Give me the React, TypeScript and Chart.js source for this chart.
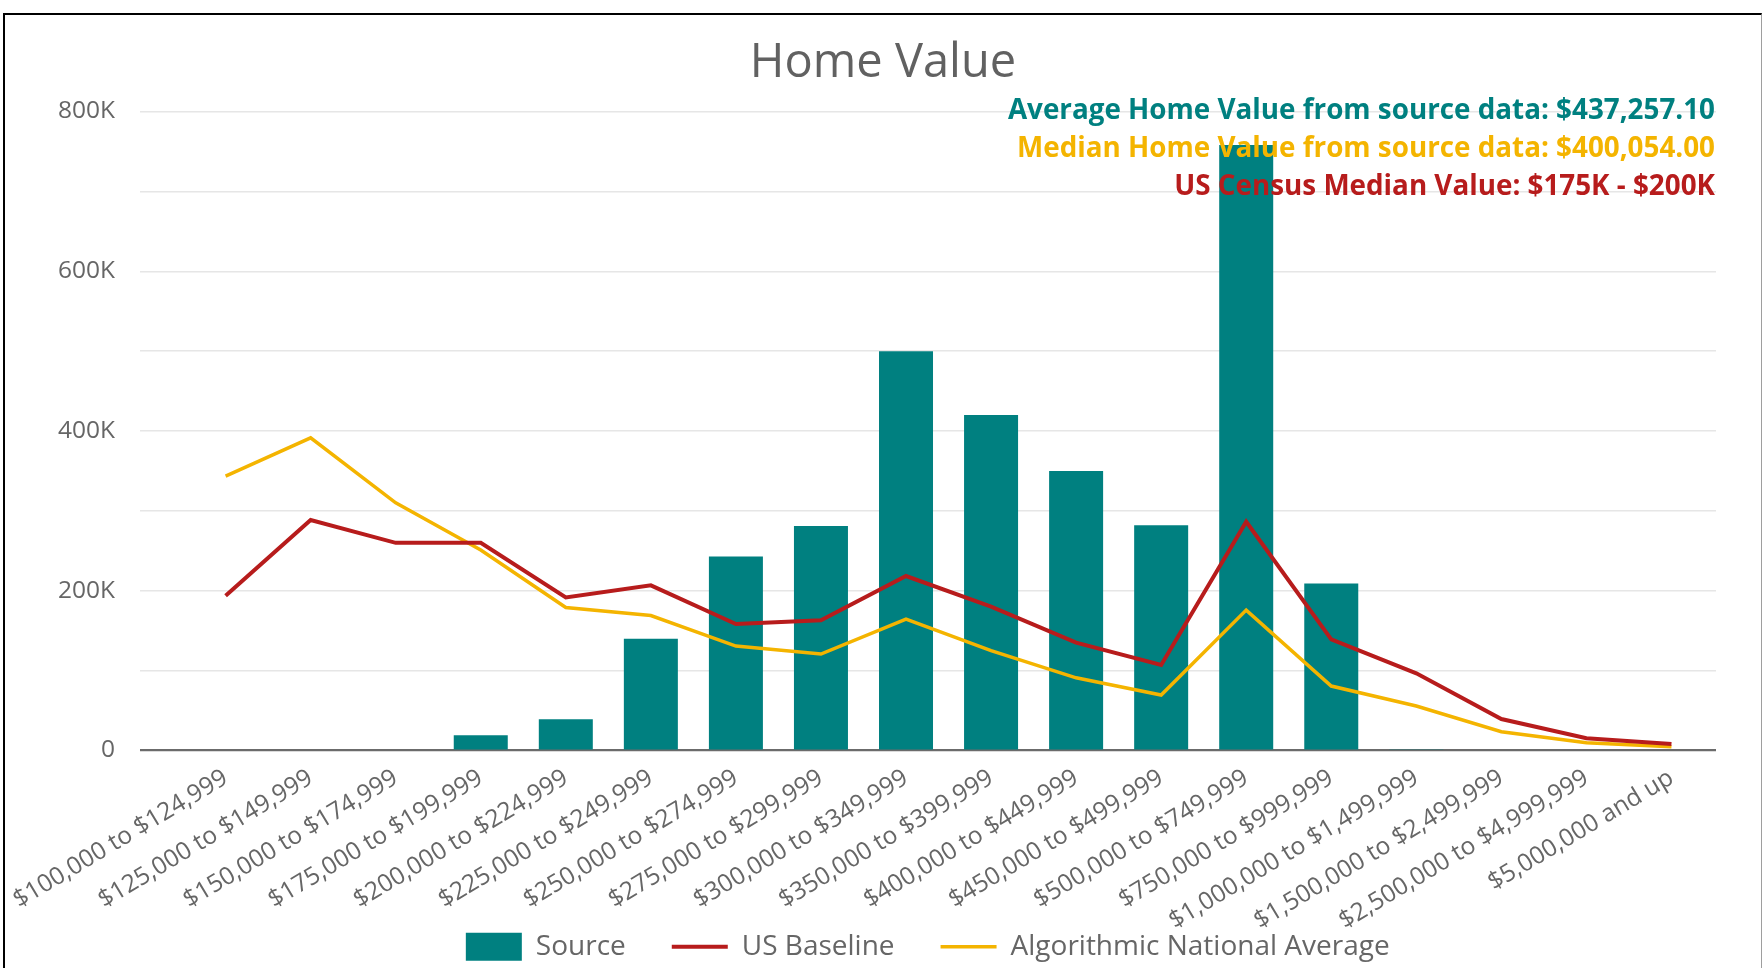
import React, { useEffect, useRef } from 'react';
import { Chart, registerables } from 'chart.js';

Chart.register(...registerables);

const categories = [
  '$100,000 to $124,999',
  '$125,000 to $149,999',
  '$150,000 to $174,999',
  '$175,000 to $199,999',
  '$200,000 to $224,999',
  '$225,000 to $249,999',
  '$250,000 to $274,999',
  '$275,000 to $299,999',
  '$300,000 to $349,999',
  '$350,000 to $399,999',
  '$400,000 to $449,999',
  '$450,000 to $499,999',
  '$500,000 to $749,999',
  '$750,000 to $999,999',
  '$1,000,000 to $1,499,999',
  '$1,500,000 to $2,499,999',
  '$2,500,000 to $4,999,999',
  '$5,000,000 and up',
];

const sourceValues = [0, 0, 0, 19000, 39000, 140000, 243000, 281000, 500000, 420000, 350000, 282000, 758000, 209000, 1500, 0, 0, 0];
const usBaseline = [193700, 288500, 260000, 260000, 191700, 206800, 158300, 163000, 218400, 180000, 135000, 107000, 286400, 139000, 96600, 39400, 15300, 8100];
const algorithmicAvg = [343600, 391500, 310000, 251000, 179000, 169000, 130800, 120800, 164600, 125000, 91000, 69500, 175800, 80700, 55700, 23500, 9800, 4800];

const seriesNames = ['Source', 'US Baseline', 'Algorithmic National Average'];
const seriesColors = ['#008080', '#B71C1C', '#F4B400'];

const yMin = 0;
const yMax = 800000;
const yStep = 100000;
const yLabelStep = 200000;

const titleText = 'Home Value';
const annotationTexts = [
  'Average Home Value from source data: $437,257.10',
  'Median Home Value from source data: $400,054.00',
  'US Census Median Value: $175K - $200K',
];
const annotationColors = ['#008080', '#F4B400', '#B71C1C'];

const FONT = '"Open Sans", "Noto Sans", sans-serif';

const annotationPlugin = {
  id: 'annotationTexts',
  afterDraw(chart: any) {
    const { ctx, chartArea } = chart;
    ctx.save();
    ctx.font = `bold 27.8px ${FONT}`;
    ctx.textAlign = 'right';
    ctx.textBaseline = 'alphabetic';
    annotationTexts.forEach((t, i) => {
      ctx.fillStyle = annotationColors[i];
      ctx.fillText(t, chartArea.right - 1, chartArea.top + 7.5 + i * 38);
    });
    ctx.restore();
  },
};

// let the rotated category labels use the space below their (shortened) axis box
const labelAreaPlugin = {
  id: 'xLabelArea',
  afterLayout(chart: any) {
    const s = chart.scales.x;
    if (s) s.bottom = chart.height;
  },
};

export default function App() {
  const canvasRef = useRef<HTMLCanvasElement | null>(null);

  useEffect(() => {
    if (!canvasRef.current) return;
    const toXY = (arr: number[]) => arr.map((v, i) => ({ x: i, y: v }));
    const xMin = -1.0124;
    const xMax = xMin + 18.536;

    const chart = new Chart(canvasRef.current, {
      type: 'bar',
      data: {
        datasets: [
          {
            type: 'bar',
            label: seriesNames[0],
            data: toXY(sourceValues),
            backgroundColor: seriesColors[0],
            borderWidth: 0,
            barPercentage: 0.635,
            categoryPercentage: 1,
            pointStyle: 'rect',
            order: 2,
          } as any,
          {
            type: 'line',
            label: seriesNames[1],
            data: toXY(usBaseline),
            borderColor: seriesColors[1],
            backgroundColor: seriesColors[1],
            borderWidth: 4,
            pointRadius: 0,
            pointHoverRadius: 0,
            tension: 0,
            fill: false,
            pointStyle: 'line',
            order: 0,
          } as any,
          {
            type: 'line',
            label: seriesNames[2],
            data: toXY(algorithmicAvg),
            borderColor: seriesColors[2],
            backgroundColor: seriesColors[2],
            borderWidth: 3.5,
            pointRadius: 0,
            pointHoverRadius: 0,
            tension: 0,
            fill: false,
            pointStyle: 'line',
            order: 1,
          } as any,
        ],
      },
      options: {
        responsive: false,
        animation: false,
        events: [],
        layout: { padding: { left: 4, right: 0, top: 0, bottom: 9.3 } },
        plugins: {
          title: {
            display: true,
            text: titleText,
            color: '#616161',
            font: { family: FONT, size: 47, weight: 'normal' },
            padding: { top: 35.8, bottom: 19.3 },
          },
          legend: {
            display: true,
            position: 'bottom',
            fullSize: false,
            labels: {
              usePointStyle: true,
              pointStyleWidth: 56,
              boxHeight: 28,
              padding: 46,
              color: '#666666',
              font: { family: FONT, size: 28 },
              sort: (a: any, b: any) => a.datasetIndex - b.datasetIndex,
            },
          },
          tooltip: { enabled: false },
        },
        scales: {
          x: {
            type: 'linear',
            min: xMin,
            max: xMax,
            offset: false,
            grid: { display: false, drawTicks: false },
            border: { display: false },
            ticks: {
              stepSize: 1,
              includeBounds: false,
              autoSkip: false,
              maxRotation: 31,
              minRotation: 31,
              padding: 13,
              color: '#666666',
              font: { family: FONT, size: 24.5 },
              callback: (value: any) => {
                const v = Number(value);
                return Number.isInteger(v) && v >= 0 && v < categories.length ? categories[v] : '';
              },
            },
            afterFit: (scale: any) => {
              scale.height = 136.2;
            },
          } as any,
          y: {
            type: 'linear',
            min: yMin,
            max: yMax,
            grid: {
              drawTicks: false,
              color: (ctx: any) => (ctx.tick && ctx.tick.value === 0 ? '#6b6b6b' : '#e6e6e6'),
              lineWidth: (ctx: any) => (ctx.tick && ctx.tick.value === 0 ? 2.2 : 1.5),
            },
            border: { display: false },
            ticks: {
              stepSize: yStep,
              padding: 24.5,
              color: '#666666',
              font: { family: FONT, size: 24.5 },
              callback: (value: any) => {
                const v = Number(value);
                if (v % yLabelStep !== 0) return '';
                return v === 0 ? '0' : `${v / 1000}K`;
              },
            },
            afterFit: (scale: any) => {
              scale.width = 135.5;
            },
          } as any,
          yRightSpace: {
            type: 'linear',
            position: 'right',
            display: true,
            grid: { display: false, drawTicks: false },
            border: { display: false },
            ticks: { display: false },
            afterFit: (scale: any) => {
              scale.width = 46;
            },
          } as any,
        },
      },
      plugins: [annotationPlugin, labelAreaPlugin],
    });

    if ((document as any).fonts && (document as any).fonts.ready) {
      (document as any).fonts.ready.then(() => {
        try { chart.update(); } catch (e) { /* ignore */ }
      });
    }

    return () => {
      chart.destroy();
    };
  }, []);

  return (
    <div
      style={{
        position: 'absolute',
        left: 0,
        top: 0,
        width: 1762,
        height: 968,
        overflow: 'hidden',
        background: '#ffffff',
      }}
    >
      <canvas ref={canvasRef} width={1762} height={980} style={{ display: 'block' }} />
      <div
        style={{
          position: 'absolute',
          left: 3,
          top: 13,
          width: 1759,
          height: 1000,
          boxSizing: 'border-box',
          borderTop: '2px solid #000',
          borderLeft: '2px solid #000',
          borderRight: '1px solid #9e9e9e',
          pointerEvents: 'none',
        }}
      />
    </div>
  );
}
